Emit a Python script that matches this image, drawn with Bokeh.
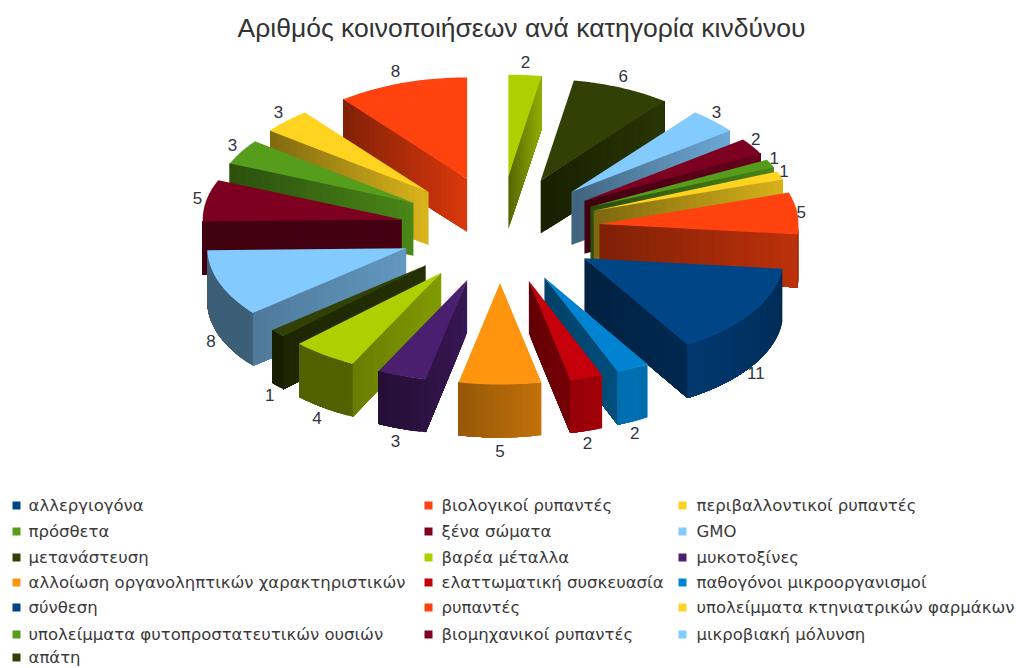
import numpy as np
from bokeh.plotting import figure
from bokeh.models import ColumnDataSource, Range1d
from bokeh.core.properties import value
from bokeh.embed import file_html
from bokeh.resources import INLINE

TITLE = "Αριθμός κοινοποιήσεων ανά κατηγορία κινδύνου"
DB, OR, YE, GR, MA, LB, OL, YG, PU, OG, RE, BL = ("#004586", "#ff420e", "#ffd320", "#579d1c", "#7e0021", "#83caff",
                                                  "#314004", "#aecf00", "#4b1f6f", "#ff950e", "#c5000b", "#0084d1")
categories = ["αλλεργιογόνα", "βιολογικοί ρυπαντές", "περιβαλλοντικοί ρυπαντές",
              "πρόσθετα", "ξένα σώματα", "GMO",
              "μετανάστευση", "βαρέα μέταλλα", "μυκοτοξίνες",
              "αλλοίωση οργανοληπτικών χαρακτηριστικών", "ελαττωματική συσκευασία", "παθογόνοι μικροοργανισμοί",
              "σύνθεση", "ρυπαντές", "υπολείμματα κτηνιατρικών φαρμάκων",
              "υπολείμματα φυτοπροστατευτικών ουσιών", "βιομηχανικοί ρυπαντές", "μικροβιακή μόλυνση",
              "απάτη"]
legend_colors = [DB, OR, YE, GR, MA, LB, OL, YG, PU, OG, RE, BL, DB, OR, YE, GR, MA, LB, OL]
# slices clockwise from twelve o'clock
pie_values = [2, 6, 3, 2, 1, 1, 5, 11, 2, 2, 5, 3, 4, 1, 8, 5, 3, 3, 8]
pie_colors = [YG, OL, LB, MA, GR, YE, OR, DB, BL, RE, OG, PU, YG, OL, LB, MA, GR, YE, OR]

# projection of the tilted pie, in page pixels
CX, CY, EXPLODE_X, EXPLODE_Y, R, K, H = 499.5, 229.0, 100.0, 105.0, 199.0, 0.51, 53.0
W, HT = 1016, 668


def shade(color, f):
    r, g, b = (int(color[i:i + 2], 16) for i in (1, 3, 5))
    return "#%02x%02x%02x" % (int(r * f), int(g * f), int(b * f))


def mix(a, b, t):
    return a + (b - a) * t


def arc_factor(deg):
    if deg > 155:
        return max(0.47, 0.85 - 0.5 * (deg - 155) / 70)
    return max(0.45, 0.85 - 0.4 * (155 - deg) / 110)


def side_factors(deg):
    """(tip, outer) brightness of a radial wall."""
    if deg < 180:
        outer = 0.85 if deg < 80 else max(0.6, 0.85 - (deg - 80) / 40 * 0.25)
        return 0.5, outer
    if deg > 290:
        return 0.85, 0.5
    if deg > 260:
        return 0.55, 0.5
    return 0.75, 0.6


xs, ys, fills = [], [], []


def add(px, py, col):
    xs.append(list(px))
    ys.append(list(py))
    fills.append(col)


fr = 360.0 / sum(pie_values)
starts = np.concatenate([[0], np.cumsum(pie_values)[:-1]]) * fr
ends = np.cumsum(pie_values) * fr
mids = (starts + ends) / 2
lab_x, lab_y, lab_t = [], [], []


def unit(deg):
    t = np.radians(deg)
    return np.sin(t), -K * np.cos(t)


for i in np.argsort(-np.cos(np.radians(mids))):
    a0, a1, b, col = starts[i], ends[i], mids[i], pie_colors[i]
    ux, uy = unit(b)
    tx, ty = CX + EXPLODE_X * ux, CY + EXPLODE_Y * uy

    def wall(edge):
        # nested polygons: each shade paints from its start to the outer end, so no seams show
        ex, ey = unit(edge)
        ft, fo = side_factors(edge)
        n = 24
        x1, y1 = tx + R * ex, ty + R * ey
        for s in range(n):
            t0 = s / n
            x0, y0 = tx + R * t0 * ex, ty + R * t0 * ey
            add([x0, x1, x1, x0], [y0, y1, y1 + H, y0 + H], shade(col, mix(ft, fo, t0)))

    if np.sin(np.radians(a0)) < 0:
        wall(a0)
    if np.sin(np.radians(a1)) > 0:
        wall(a1)

    lo, hi = max(a0, 90), min(a1, 270)
    if hi > lo:
        grid = np.linspace(lo, hi, int((hi - lo) / 1.5) + 2)
        for d0 in grid[:-1]:
            sub = np.linspace(d0, hi, 24)
            ex, ey = unit(sub)
            px, py = tx + R * ex, ty + R * ey
            add(np.r_[px, px[::-1]], np.r_[py, py[::-1] + H], shade(col, arc_factor(d0)))

    arc = np.linspace(a0, a1, 40)
    ax, ay = unit(arc)
    add(np.r_[tx, tx + R * ax], np.r_[ty, ty + R * ay], col)

    s, c = np.sin(np.radians(b)), np.cos(np.radians(b))
    lab_x.append(tx + R * ux + 4 * s - (5 if s < -0.01 else 0))
    lab_y.append(ty + R * uy - 13 * c + (H if c < 0 else 0))
    lab_t.append(str(pie_values[i]))

p = figure(width=W, height=HT, output_backend="svg", toolbar_location=None,
           x_range=Range1d(0, W), y_range=Range1d(HT, 0), min_border=0)
p.axis.visible = False
p.grid.visible = False
p.outline_line_color = None
p.background_fill_color = "white"

p.patches("xs", "ys", source=ColumnDataSource(dict(xs=xs, ys=ys, c=fills)),
          fill_color="c", line_color=None)

p.text(lab_x, lab_y, text=lab_t, text_font=value("Liberation Sans"), text_font_size="17px",
       text_color="#2e3440", text_align="center", text_baseline="middle")
p.text([521], [27], text=[TITLE], text_font=value("Liberation Sans"), text_font_size="26.5px",
       text_color="#333333", text_align="center", text_baseline="middle")

col_sq = [16, 428, 682]
col_tx = [28, 441, 696]
row_y = [505, 531, 557, 582, 607, 634, 657]
lx, ly, lsx, lsy = [], [], [], []
for n in range(len(categories)):
    r, c = n // 3, n % 3
    lx.append(col_tx[c]); ly.append(row_y[r])
    lsx.append(col_sq[c]); lsy.append(row_y[r])
p.rect(lsx, lsy, width=8, height=8, fill_color=legend_colors, line_color=None)
p.text(lx, ly, text=categories, text_font=value("DejaVu Sans"), text_font_size="16.5px",
       text_color="#3a3a3a", text_align="left", text_baseline="middle")

open("out.html", "w").write(file_html(p, INLINE))
